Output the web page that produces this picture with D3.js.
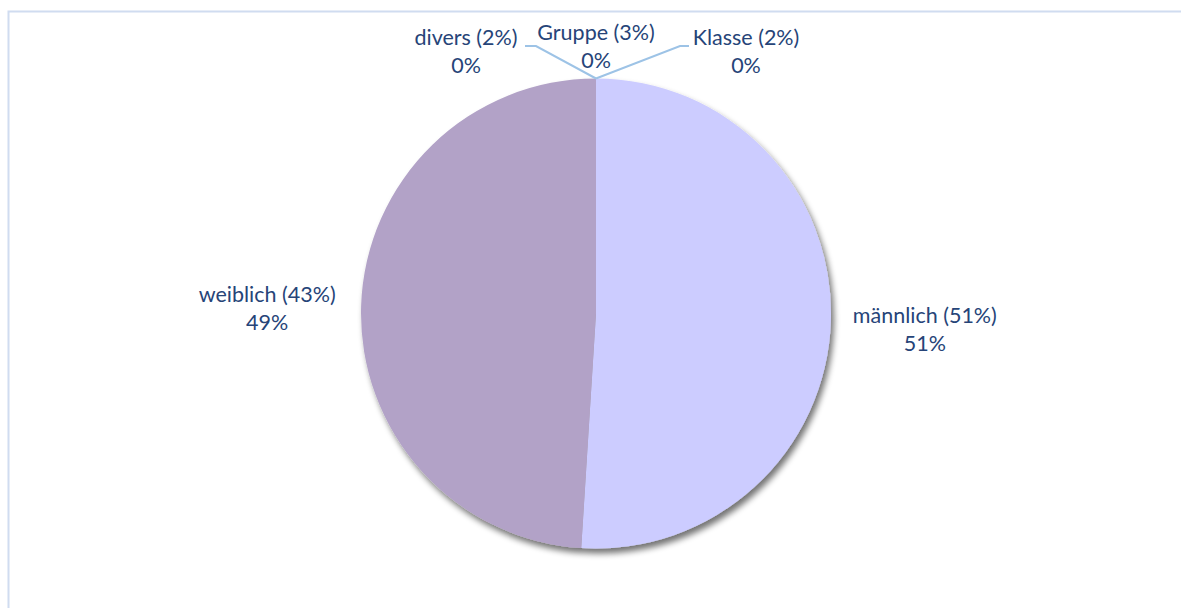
<!DOCTYPE html>
<html>
<head>
<meta charset="utf-8">
<style>
  body { margin: 0; background: #fff; }
  svg text { font-family: Lato, "Open Sans", sans-serif; font-size: 21.5px; fill: #264478; }
</style>
</head>
<body>
<div class="start"></div>
<script src="https://cdn.jsdelivr.net/npm/d3@7"></script>
<script>
// chart data
var categories = ["männlich (51%)", "weiblich (43%)", "divers (2%)", "Gruppe (3%)", "Klasse (2%)"];
var values = [51, 49, 0, 0, 0];
var colors = ["#CCCCFF", "#B2A2C7", "#8FAADC", "#A9D18E", "#F4B183"];

var width = 1181, height = 608;
var cx = 596, cy = 313.5, r = 235;

// where the zero-size slices put their labels (offset from the top of the pie)
var smallLabels = {
  "divers (2%)": { dx: -130, dy: -28, knee: -60, end: -71 },
  "Gruppe (3%)": { dx: 0, dy: -33, knee: 0, end: 0 },
  "Klasse (2%)": { dx: 150, dy: -28, knee: 84, end: 93 }
};

var svg = d3.select('.start')
  .append('svg')
  .attr('width', width)
  .attr('height', height);

// chart frame
svg.append('path')
  .attr('d', 'M8.5,' + height + 'V11.5H' + width)
  .attr('fill', 'none')
  .attr('stroke', '#D0DCF0')
  .attr('stroke-width', 2);

var defs = svg.append('defs');
var f = defs.append('filter').attr('id', 'shadow')
  .attr('x', '-10%').attr('y', '-10%').attr('width', '130%').attr('height', '130%');
f.append('feGaussianBlur').attr('in', 'SourceAlpha').attr('stdDeviation', 3).attr('result', 'b');
f.append('feOffset').attr('in', 'b').attr('dx', 3).attr('dy', 5).attr('result', 'o');
f.append('feComponentTransfer').attr('in', 'o').attr('result', 's')
  .append('feFuncA').attr('type', 'linear').attr('slope', 0.55);
var m = f.append('feMerge');
m.append('feMergeNode').attr('in', 's');
m.append('feMergeNode').attr('in', 'SourceGraphic');

var data = categories.map(function(c, i) { return { name: c, value: values[i], color: colors[i] }; });
var total = d3.sum(values);

var pie = d3.pie().sort(null).value(function(d) { return d.value; });
var arcs = pie(data);
var arc = d3.arc().innerRadius(0).outerRadius(r);

var g = svg.append('g').attr('transform', 'translate(' + cx + ',' + cy + ')');

g.append('g').attr('filter', 'url(#shadow)')
  .selectAll('path')
  .data(arcs.filter(function(d) { return d.value > 0; }))
  .enter()
  .append('path')
  .attr('d', arc)
  .attr('fill', function(d) { return d.data.color; });

var pct = d3.format('.0%');

arcs.forEach(function(d) {
  var lx, ly;
  if (d.value > 0) {
    var a = (d.startAngle + d.endAngle) / 2;
    lx = Math.sin(a) * r * 1.4;
    ly = -Math.cos(a) * r * 1.4 + 5;
  } else {
    var s = smallLabels[d.data.name];
    lx = s.dx; ly = s.dy;
    if (s.knee !== 0) {
      var ky = -r - 32.5;
      g.append('polyline')
        .attr('points', [[0, -r], [s.knee, ky], [s.end, ky]].map(function(p) { return p.join(','); }).join(' '))
        .attr('fill', 'none')
        .attr('stroke', '#9DC3E6')
        .attr('stroke-width', 2);
    }
    ly = ly - r;
  }
  var t = g.append('text').attr('text-anchor', 'middle');
  t.append('tspan').attr('x', lx).attr('y', ly - 6).text(d.data.name);
  t.append('tspan').attr('x', lx).attr('y', ly + 22).text(pct(d.value / total));
});
</script>
</body>
</html>
